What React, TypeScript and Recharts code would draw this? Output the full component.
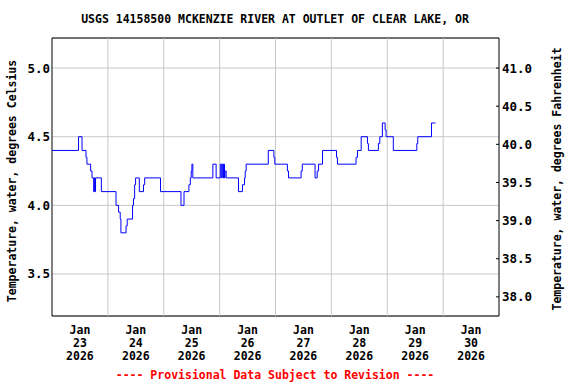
import React from "react";
import {
  LineChart,
  Line,
  XAxis,
  YAxis,
  CartesianGrid,
  ReferenceLine,
  ReferenceArea,
} from "recharts";

// hours since Jan 23 2026 00:00, and the water temperature (deg C) from that time on
const hours = [
  0, 11.4, 12.9, 14.6, 15.0, 16.6, 17.2, 17.9, 18.2, 18.5, 18.7, 21.2, 27.5,
  28.6, 29.3, 29.6, 31.8, 32.3, 34.6, 35.0, 35.5, 35.9, 37.5, 39.3, 39.8, 46.6,
  55.4, 56.7, 58.8, 59.4, 59.8, 60.1, 60.5, 69.1, 70.5, 72.3, 72.9, 73.1, 73.5,
  73.7, 74.1, 74.3, 74.8, 80.1, 81.8, 82.7, 83.0, 83.4, 92.9, 95.3, 95.7,
  101.1, 101.6, 107.0, 107.5, 113.0, 113.9, 114.5, 116.2, 122.2, 122.6, 130.6,
  131.2, 132.8, 135.5, 135.9, 140.2, 140.8, 141.9, 143.1, 143.5, 146.6, 156.7,
  157.1, 163.0, 164.7,
];
const tempC = [
  4.4, 4.5, 4.4, 4.35, 4.3, 4.25, 4.2, 4.1, 4.2, 4.1, 4.2, 4.1, 4.0, 3.95, 3.9,
  3.8, 3.85, 3.9, 4.0, 4.05, 4.15, 4.2, 4.1, 4.15, 4.2, 4.1, 4.0, 4.1, 4.15,
  4.2, 4.25, 4.3, 4.2, 4.3, 4.2, 4.3, 4.2, 4.3, 4.2, 4.3, 4.2, 4.25, 4.2, 4.1,
  4.15, 4.2, 4.25, 4.3, 4.4, 4.35, 4.3, 4.25, 4.2, 4.25, 4.3, 4.2, 4.25, 4.3,
  4.4, 4.35, 4.3, 4.35, 4.4, 4.5, 4.45, 4.4, 4.45, 4.5, 4.6, 4.55, 4.5, 4.4,
  4.45, 4.5, 4.6, 4.6,
];

const midnights = [24, 48, 72, 96, 120, 144, 168];
const noonTicks = [12, 36, 60, 84, 108, 132, 156, 180];
const dayLabels = ["23", "24", "25", "26", "27", "28", "29", "30"];
const celsiusTicks = [3.5, 4.0, 4.5, 5.0];
const fahrenheitTicks = [38.0, 38.5, 39.0, 39.5, 40.0, 40.5, 41.0];

const cDomain = [3.194, 5.219];
const fDomain = [cDomain[0] * 1.8 + 32, cDomain[1] * 1.8 + 32];

const rows = hours.map((h, i) => ({ h, t: tempC[i] }));

const FONT = "'DejaVu Sans Mono', monospace";

function DayTick({ x, y, payload }: any) {
  const i = noonTicks.indexOf(payload.value);
  return (
    <text
      x={x}
      y={y}
      textAnchor="middle"
      fontFamily={FONT}
      fontWeight="bold"
      fontSize={11.5}
      fill="#000"
    >
      <tspan x={x} dy={18}>Jan</tspan>
      <tspan x={x} dy={13}>{dayLabels[i]}</tspan>
      <tspan x={x} dy={13}>2026</tspan>
    </text>
  );
}

function FTick({ x, y, payload }: any) {
  return (
    <g>
      <line x1={x - 6} x2={x - 3} y1={y} y2={y} stroke="#000" />
      <text
        x={x}
        y={y}
        dy="0.355em"
        textAnchor="start"
        fontFamily={FONT}
        fontWeight="bold"
        fontSize={12.5}
        fill="#000"
      >
        {payload.value.toFixed(1)}
      </text>
    </g>
  );
}

export default function App() {
  return (
    <div
      style={{
        position: "absolute",
        left: 0,
        top: 0,
        width: 576,
        height: 384,
        background: "#fff",
      }}
    >
      <LineChart
        width={576}
        height={384}
        data={rows}
        margin={{ top: 38, right: 0, bottom: 0, left: 0 }}
      >
        <CartesianGrid yAxisId="c" vertical={false} stroke="#c8c8c8" />
        <XAxis
          dataKey="h"
          type="number"
          domain={[0, 192]}
          ticks={noonTicks}
          interval={0}
          height={68}
          axisLine={false}
          tickLine={false}
          tickSize={0}
          tickMargin={0}
          tick={<DayTick />}
          allowDataOverflow
        />
        <YAxis
          yAxisId="c"
          type="number"
          domain={cDomain}
          ticks={celsiusTicks}
          interval={0}
          width={52}
          axisLine={false}
          tickLine={false}
          tickSize={0}
          tickMargin={2}
          tickFormatter={(v: number) => v.toFixed(1)}
          tick={{
            fill: "#000",
            fontFamily: FONT,
            fontWeight: "bold",
            fontSize: 12.5,
          }}
          allowDataOverflow
        />
        <YAxis
          yAxisId="f"
          orientation="right"
          type="number"
          domain={fDomain}
          ticks={fahrenheitTicks}
          interval={0}
          width={77}
          axisLine={false}
          tickLine={false}
          tickSize={3}
          tickMargin={0}
          tick={<FTick />}
          allowDataOverflow
        />
        {midnights.map((m) => (
          <ReferenceLine
            key={m}
            yAxisId="c"
            x={m}
            stroke="#c8c8c8"
            strokeWidth={1}
          />
        ))}
        <Line
          yAxisId="c"
          type="stepAfter"
          dataKey="t"
          stroke="#0000ff"
          strokeWidth={1}
          dot={false}
          isAnimationActive={false}
        />
        <ReferenceArea
          yAxisId="c"
          x1={0}
          x2={192}
          y1={cDomain[0]}
          y2={cDomain[1]}
          fill="none"
          stroke="#000"
          strokeWidth={1}
          ifOverflow="extendDomain"
        />
      </LineChart>
      <svg
        width={576}
        height={384}
        style={{ position: "absolute", left: 0, top: 0, pointerEvents: "none" }}
        fontFamily={FONT}
        fontWeight="bold"
      >
        <text x={275} y={23} textAnchor="middle" fontSize={11.5} fill="#000">
          USGS 14158500 MCKENZIE RIVER AT OUTLET OF CLEAR LAKE, OR
        </text>
        <text
          transform="translate(12,181) rotate(-90)"
          textAnchor="middle"
          dominantBaseline="central"
          fontSize={11.5}
          fill="#000"
        >
          Temperature, water, degrees Celsius
        </text>
        <text
          transform="translate(557,179) rotate(-90)"
          textAnchor="middle"
          dominantBaseline="central"
          fontSize={11.5}
          fill="#000"
        >
          Temperature, water, degrees Fahrenheit
        </text>
        <text x={275} y={379} textAnchor="middle" fontSize={11.5} fill="#ff0000">
          ---- Provisional Data Subject to Revision ----
        </text>
      </svg>
    </div>
  );
}
